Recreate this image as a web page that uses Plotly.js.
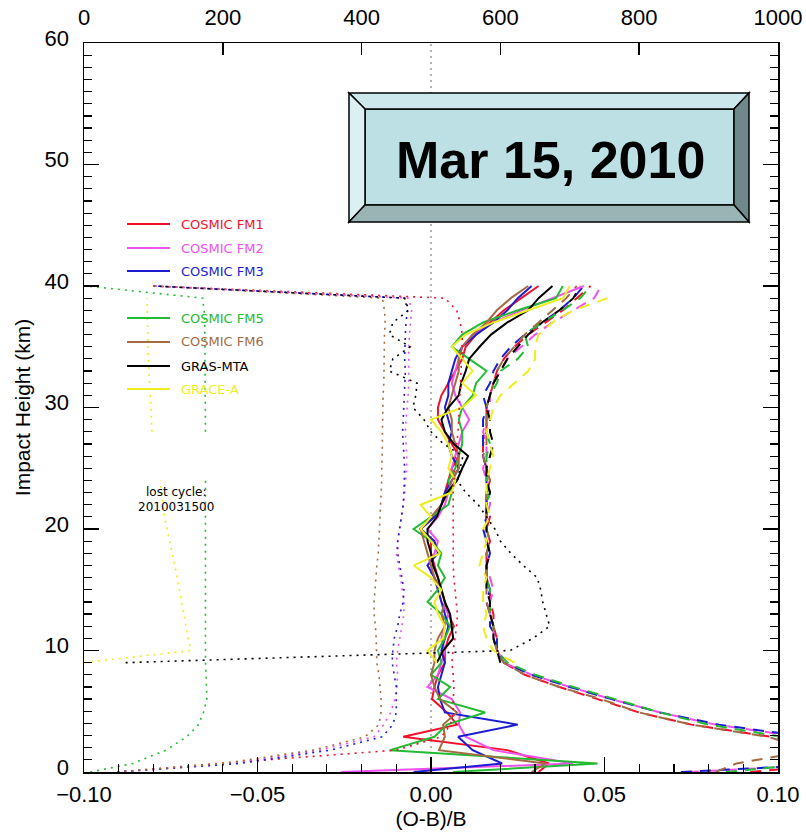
<!DOCTYPE html>
<html><head><meta charset="utf-8">
<script src="https://cdn.plot.ly/plotly-3.0.1.min.js"></script>
<style>html,body{margin:0;padding:0;background:#fff}#chart{width:806px;height:834px}</style>
</head><body><div id="chart"></div>
<script>
// ---------------- DATA ----------------
// impact heights (km) for COSMIC satellites
const hCosmic = [0, 0.7, 1.8, 2.9, 3.9, 4.9, 6, 7, 8, 9, 10, 11, 12, 13, 14, 15, 16, 17, 18, 19, 20, 21, 22, 23, 24, 25, 26, 27, 28, 29, 30, 31, 32, 33, 34, 35, 36, 37, 38, 39, 40];
// impact heights (km) for GRAS-MTA and GRACE-A
const hOther = [9, 10, 11, 12, 13, 14, 15, 16, 17, 18, 19, 20, 21, 22, 23, 24, 25, 26, 27, 28, 29, 30, 31, 32, 33, 34, 35, 36, 37, 38, 39, 40];

// mean (O-B)/B  (solid lines)
const fm1Mean = [0.031, 0.034, 0.022, -0.008, 0.0075, 0.0046, 0.0003, 0.001, 0.002, 0.004, 0.004, 0.005, 0.0066, 0.005, 0.004, 0.003, 0.002, 0.001, 0.000, 0.000, -0.003, 0.001, 0.003, 0.004, 0.005, 0.006, 0.008, 0.006, 0.004, 0.002, 0.002, 0.003, 0.005, 0.007, 0.009, 0.010, 0.013, 0.017, 0.021, 0.026, 0.031];
const fm2Mean = [-0.026, 0.041, 0.018, 0.010, 0.008, 0.0084, 0.006, -0.001, 0.002, 0.003, 0.004, 0.003, 0.004, 0.005, 0.003, 0.002, 0.001, -0.001, 0.001, 0.002, -0.001, 0.002, 0.004, 0.005, 0.007, 0.006, 0.007, 0.008, 0.009, 0.011, 0.009, 0.007, 0.006, 0.007, 0.008, 0.009, 0.012, 0.018, 0.026, 0.035, 0.044];
const fm3Mean = [-0.005, 0.0205, 0.012, 0.0078, 0.025, 0.004, 0.0026, 0.002, 0.003, 0.004, 0.003, 0.004, 0.005, 0.004, 0.003, 0.002, 0.001, -0.001, 0.002, 0.001, -0.003, 0.001, 0.003, 0.004, 0.006, 0.008, 0.006, 0.005, 0.006, 0.005, 0.004, 0.005, 0.005, 0.006, 0.007, 0.009, 0.013, 0.018, 0.022, 0.025, 0.029];
const fm5Mean = [0.0063, 0.048, -0.0118, 0.001, 0.0046, 0.0156, 0.002, 0.0055, 0.000, 0.003, 0.002, 0.004, 0.0055, 0.003, -0.001, 0.002, 0.004, 0.002, 0.003, 0.000, -0.005, 0.000, 0.005, 0.006, 0.005, 0.007, 0.008, 0.009, 0.009, 0.008, 0.009, 0.012, 0.013, 0.016, 0.011, 0.006, 0.009, 0.015, 0.025, 0.036, 0.038];
const fm6Mean = [0.029, 0.033, 0.0023, 0.004, 0.0035, 0.0075, 0.0026, 0.001, 0.000, 0.001, 0.001, 0.002, 0.004, 0.003, 0.004, 0.003, 0.001, 0.000, -0.001, -0.002, -0.003, 0.000, 0.003, 0.005, 0.006, 0.008, 0.008, 0.007, 0.006, 0.006, 0.005, 0.006, 0.007, 0.008, 0.008, 0.009, 0.012, 0.016, 0.019, 0.023, 0.028];
const grasMean = [0.0017, 0.0035, 0.0064, 0.006, 0.0055, 0.004, 0.003, 0.002, 0.0006, 0.000, -0.001, -0.001, 0.0017, 0.003, 0.0046, 0.0075, 0.009, 0.0107, 0.0066, 0.004, 0.003, 0.005, 0.008, 0.0087, 0.010, 0.011, 0.014, 0.0173, 0.022, 0.028, 0.031, 0.035];
const graceMean = [0.0017, -0.001, 0.0035, 0.004, 0.002, 0.001, 0.003, 0.000, -0.005, 0.0026, 0.000, -0.003, 0.000, -0.003, 0.006, 0.007, 0.005, 0.006, 0.005, 0.003, 0.000, 0.009, 0.013, 0.009, 0.012, 0.009, 0.006, 0.010, 0.018, 0.028, 0.038, 0.040];

// standard deviation (dashed lines)
const fm1Std = [0.092, 0.12, 0.12, 0.098, 0.075, 0.060, 0.048, 0.037, 0.027, 0.021, 0.019, 0.019, 0.018, 0.018, 0.017, 0.017, 0.016, 0.016, 0.016, 0.017, 0.016, 0.017, 0.016, 0.016, 0.017, 0.016, 0.015, 0.015, 0.016, 0.016, 0.016, 0.017, 0.018, 0.019, 0.021, 0.024, 0.028, 0.033, 0.038, 0.042, 0.046];
const fm2Std = [0.074, 0.12, 0.12, 0.106, 0.082, 0.066, 0.052, 0.040, 0.029, 0.021, 0.019, 0.018, 0.018, 0.017, 0.017, 0.018, 0.017, 0.016, 0.017, 0.016, 0.016, 0.016, 0.017, 0.017, 0.016, 0.015, 0.016, 0.016, 0.015, 0.016, 0.017, 0.017, 0.018, 0.020, 0.022, 0.026, 0.030, 0.035, 0.041, 0.047, 0.049];
const fm3Std = [0.072, 0.12, 0.12, 0.108, 0.083, 0.066, 0.052, 0.040, 0.029, 0.021, 0.019, 0.019, 0.017, 0.017, 0.016, 0.017, 0.016, 0.016, 0.017, 0.016, 0.015, 0.016, 0.016, 0.016, 0.016, 0.016, 0.015, 0.015, 0.015, 0.015, 0.016, 0.015, 0.017, 0.018, 0.020, 0.023, 0.027, 0.032, 0.037, 0.041, 0.044];
const fm5Std = [0.085, 0.11, 0.12, 0.101, 0.080, 0.066, 0.053, 0.041, 0.030, 0.022, 0.019, 0.018, 0.018, 0.017, 0.017, 0.017, 0.016, 0.016, 0.016, 0.017, 0.016, 0.016, 0.016, 0.017, 0.016, 0.016, 0.016, 0.017, 0.016, 0.016, 0.016, 0.017, 0.019, 0.020, 0.025, 0.028, 0.027, 0.032, 0.038, 0.043, 0.046];
const fm6Std = [0.082, 0.088, 0.11, 0.097, 0.075, 0.060, 0.049, 0.037, 0.027, 0.021, 0.019, 0.018, 0.018, 0.017, 0.016, 0.016, 0.016, 0.016, 0.016, 0.017, 0.016, 0.016, 0.016, 0.016, 0.017, 0.016, 0.015, 0.016, 0.016, 0.016, 0.016, 0.017, 0.018, 0.019, 0.021, 0.024, 0.027, 0.031, 0.035, 0.039, 0.042];
const grasStd = [0.020, 0.019, 0.018, 0.018, 0.017, 0.017, 0.016, 0.016, 0.016, 0.017, 0.016, 0.016, 0.016, 0.016, 0.017, 0.016, 0.016, 0.017, 0.018, 0.017, 0.017, 0.016, 0.017, 0.018, 0.020, 0.022, 0.025, 0.028, 0.032, 0.037, 0.041, 0.043];
const graceStd = [0.024, 0.018, 0.016, 0.015, 0.016, 0.015, 0.015, 0.016, 0.014, 0.015, 0.016, 0.015, 0.017, 0.016, 0.016, 0.016, 0.017, 0.018, 0.017, 0.016, 0.017, 0.018, 0.020, 0.024, 0.028, 0.030, 0.030, 0.031, 0.035, 0.041, 0.051, null];

// number of observations (dotted lines, top axis)
const fm1Count = [48, 192, 450, 515, 528, 532, 532, 533, 532, 530, 532, 535, 537, 538, 536, 535, 533, 532, 532, 532, 532, 531, 532, 532, 533, 534, 535, 537, 539, 540, 541, 542, 543, 544, 545, 545, 545, 542, 537, 520, 100];
const fm2Count = [48, 215, 340, 418, 432, 442, 448, 451, 452, 450, 452, 455, 458, 461, 461, 459, 456, 453, 450, 452, 455, 458, 460, 462, 464, 465, 465, 464, 463, 464, 466, 467, 468, 468, 467, 468, 469, 470, 472, 468, 100];
const fm3Count = [48, 225, 355, 430, 445, 450, 450, 450, 447, 444, 445, 447, 452, 455, 460, 461, 458, 455, 452, 452, 455, 458, 460, 461, 462, 462, 461, 460, 459, 460, 461, 462, 463, 463, 462, 462, 463, 464, 466, 462, 100];
const fm5Count = [9, 70, 118, 148, 165, 172, 177, 177, 176, 175, 175, 175, 174, 174, 174, 175, 175, 175, 174, 174, 174, 174, 175, 175, 175, null, null, null, 175, 175, 175, 175, 175, 175, 174, 174, 174, 174, 173, 171, 3];
const fm6Count = [48, 200, 330, 405, 425, 428, 428, 427, 425, 422, 422, 421, 420, 418, 418, 419, 420, 422, 424, 425, 425, 426, 427, 428, 429, 429, 430, 430, 430, 430, 431, 431, 432, 432, 432, 433, 433, 434, 433, 430, 100];
const grasCount = [60, 614, 647, 671, 666, 661, 658, 653, 633, 615, 600, 592, 580, 568, 550, 538, 542, 546, 518, 500, 490, 474, 478, 480, 440, 445, 470, 440, 445, 468, 462, 100];
const graceCount = [0, 154, 150, 147, 144, 141, 138, 135, 131, 127, 123, 119, 116, 114, 112, 110, null, null, null, 98, 97, 96, 95, 94, 93, 93, 92, 92, 91, 91, 91, null];

// zero reference line
const refX = [0, 0];
const refY = [0, 60];

const satNames = ['COSMIC FM1', 'COSMIC FM2', 'COSMIC FM3', 'COSMIC FM5', 'COSMIC FM6', 'GRAS-MTA', 'GRACE-A'];
const dateLabel = 'Mar 15, 2010';
const lostCycle = ['lost cycle:', '2010031500'];

// ---------------- STYLE / LAYOUT ----------------
const W = 806, H = 834, ML = 84, MR = 28, MT = 43, MB = 62;
const PW = W - ML - MR, PH = H - MT - MB;
const px = v => (v - ML) / PW;
const py = v => (H - MB - v) / PH;

const colors = ['#f2102a', '#f050ee', '#1c1cd0', '#22bb33', '#a36b42', '#000000', '#eeee1e'];
const series = [
  {h: hCosmic, m: fm1Mean, s: fm1Std, n: fm1Count},
  {h: hCosmic, m: fm2Mean, s: fm2Std, n: fm2Count},
  {h: hCosmic, m: fm3Mean, s: fm3Std, n: fm3Count},
  {h: hCosmic, m: fm5Mean, s: fm5Std, n: fm5Count},
  {h: hCosmic, m: fm6Mean, s: fm6Std, n: fm6Count},
  {h: hOther, m: grasMean, s: grasStd, n: grasCount},
  {h: hOther, m: graceMean, s: graceStd, n: graceCount}
];

const traces = [];
traces.push({x: refX, y: refY, xaxis: 'x', yaxis: 'y', mode: 'lines',
  line: {color: '#9a9a9a', width: 1.5, dash: '2px,4px'}, showlegend: false, hoverinfo: 'skip'});
series.forEach((d, i) => {
  traces.push({x: d.n, y: d.h, xaxis: 'x2', yaxis: 'y', mode: 'lines', name: satNames[i] + ' N',
    line: {color: colors[i], width: 1.6, dash: '2px,5px'}, showlegend: false, connectgaps: false});
});
series.forEach((d, i) => {
  traces.push({x: d.s, y: d.h, xaxis: 'x', yaxis: 'y', mode: 'lines', name: satNames[i] + ' std',
    line: {color: colors[i], width: 2, dash: '11px,8px'}, showlegend: false});
});
series.forEach((d, i) => {
  traces.push({x: d.m, y: d.h, xaxis: 'x', yaxis: 'y', mode: 'lines', name: satNames[i],
    line: {color: colors[i], width: 2}, showlegend: false});
});

const fontFam = 'Liberation Sans, Arial, Helvetica, sans-serif';
const smallFam = 'DejaVu Sans, Verdana, sans-serif';
const shapes = [];
const annotations = [];

// legend inside plot
const legendRowsY = [224, 248, 271, 318, 342, 366, 389];
satNames.forEach((nm, i) => {
  shapes.push({type: 'line', xref: 'paper', yref: 'paper', x0: px(127), x1: px(170),
    y0: py(legendRowsY[i]), y1: py(legendRowsY[i]), line: {color: colors[i], width: 2}});
  annotations.push({xref: 'paper', yref: 'paper', x: px(179), y: py(legendRowsY[i]),
    xanchor: 'left', yanchor: 'middle', showarrow: false, text: nm,
    font: {family: smallFam, size: 13, color: colors[i]}});
});
const lostRowsY = [492, 507];
lostCycle.forEach((t, i) => {
  annotations.push({xref: 'paper', yref: 'paper', x: px(176), y: py(lostRowsY[i]), xanchor: 'center', yanchor: 'middle',
    showarrow: false, text: t, borderpad: 0, font: {family: smallFam, size: 12, color: '#000'}});
});

// beveled date box
const bx0 = 349, bx1 = 749, by0 = 93, by1 = 222, ix0 = 365, ix1 = 734, iy0 = 109, iy1 = 205;
const P = (x, y) => px(x).toFixed(5) + ',' + py(y).toFixed(5);
const poly = (pts, fill) => shapes.push({type: 'path', xref: 'paper', yref: 'paper',
  path: 'M' + pts.map(p => P(p[0], p[1])).join('L') + 'Z', fillcolor: fill, line: {color: '#000', width: 1.5}});
poly([[ix0, iy0], [ix1, iy0], [ix1, iy1], [ix0, iy1]], '#bce0e4');
poly([[bx0, by0], [bx1, by0], [ix1, iy0], [ix0, iy0]], '#cde8ec');
poly([[bx0, by0], [ix0, iy0], [ix0, iy1], [bx0, by1]], '#dbf0f3');
poly([[bx1, by0], [bx1, by1], [ix1, iy1], [ix1, iy0]], '#6f898b');
poly([[bx0, by1], [bx1, by1], [ix1, iy1], [ix0, iy1]], '#9ab4b6');
annotations.push({xref: 'paper', yref: 'paper', x: px(550), y: py(160), xanchor: 'center', yanchor: 'middle',
  showarrow: false, text: dateLabel, font: {family: fontFam, size: 52, color: '#000', weight: 700}});

const tickFont = {family: fontFam, size: 22, color: '#000'};
const layout = {
  width: W, height: H,
  margin: {l: ML, r: MR, t: MT, b: MB, pad: 0},
  paper_bgcolor: '#fff', plot_bgcolor: '#fff',
  showlegend: false,
  xaxis: {range: [-0.1, 0.1], dtick: 0.05, tick0: -0.1, tickformat: '.2f',
    ticks: 'inside', ticklen: 15, tickwidth: 1.5, tickcolor: '#000', ticklabelstandoff: 2,
    minor: {ticks: 'inside', dtick: 0.01, ticklen: 8, tickwidth: 1.2, tickcolor: '#000', showgrid: false},
    showline: true, linecolor: '#000', linewidth: 1.5, mirror: true,
    showgrid: false, zeroline: false, tickfont: tickFont, automargin: false,
    title: {text: '(O-B)/B', font: {family: fontFam, size: 21, color: '#000'}, standoff: 5}},
  xaxis2: {range: [0, 1000], dtick: 200, overlaying: 'x', side: 'top', anchor: 'y',
    ticks: 'inside', ticklen: 12, tickwidth: 1.5, tickcolor: '#000', ticklabelstandoff: 13,
    showline: false, showgrid: false, zeroline: false, tickfont: tickFont, automargin: false},
  yaxis: {range: [0, 60], dtick: 10, ticks: 'inside', ticklen: 15, tickwidth: 1.5, tickcolor: '#000',
    ticklabelstandoff: 9, ticklabelshift: -5,
    minor: {ticks: 'inside', dtick: 1, ticklen: 8, tickwidth: 1.2, tickcolor: '#000', showgrid: false},
    showline: true, linecolor: '#000', linewidth: 1.5, mirror: 'ticks',
    showgrid: false, zeroline: false, tickfont: tickFont, automargin: false,
    title: {text: 'Impact Height (km)', font: {family: fontFam, size: 21, color: '#000'}, standoff: 8}},
  shapes: shapes,
  annotations: annotations
};

Plotly.newPlot('chart', traces, layout, {displayModeBar: false, staticPlot: true});
</script></body></html>
